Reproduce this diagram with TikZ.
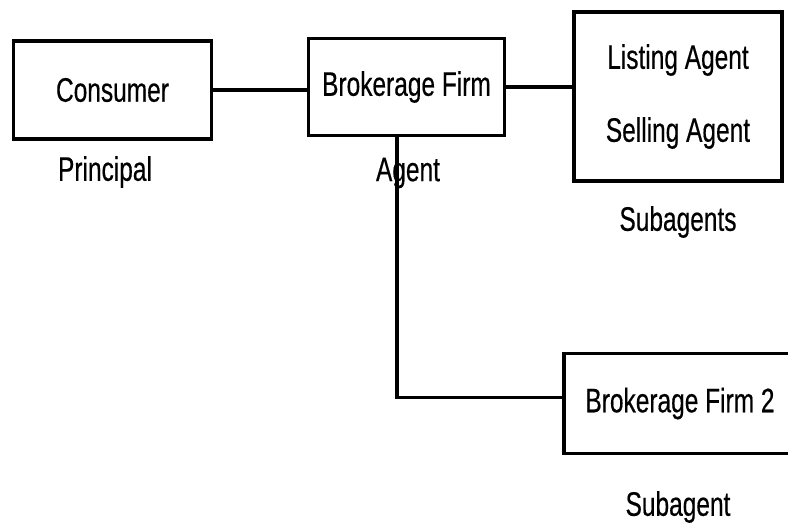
\documentclass[tikz,border=0pt]{standalone}
\usepackage{fontspec}
\setmainfont{Liberation Sans}[FakeStretch=0.72, FakeBold=0.4]
\usepackage{tikz}
\usetikzlibrary{calc, positioning}

\tikzset{
	party/.style = {draw, line width = 3.5pt, rectangle, inner sep = 0pt, align = center},
	role/.style = {inner sep = 0pt},
	link/.style = {line width = 3.2pt}
}

\begin{document}
\begin{tikzpicture}[x = 1pt, y = -1pt, font = \fontsize{34}{40}\selectfont]
			\useasboundingbox (0,0) rectangle (788,525);

			\begin{scope}
				\node [party, minimum width = 198, minimum height = 98] (consumer) at (112.5,90) {Consumer};
				\node [party, minimum width = 196, minimum height = 97] (firm) at (406.5,87) {Brokerage Firm};
				\node [party, minimum width = 208, minimum height = 169] (subs) at (678,96.5) {Listing Agent\\[33pt]Selling Agent};
				\node [party, minimum width = 232, minimum height = 100] (firm2) at (680,403.5) {Brokerage Firm 2};
			\end{scope}

			\begin{scope}
				\node [role] (principal) at (105,172) {Principal};
				\node [role] (agent) at (408,173) {Agent};
				\node [role] (subagents) at (678,222) {Subagents};
				\node [role] (subagent) at (678,507) {Subagent};
			\end{scope}

			\begin{scope}[link]
				\draw (consumer.east) -- (consumer.east -| firm.west);
				\draw (firm.east) -- (firm.east -| subs.west);
				\draw ([xshift = -9.5pt]firm.south) |- ([yshift = 6pt]firm2.west);
			\end{scope}
		\end{tikzpicture}
\end{document}
